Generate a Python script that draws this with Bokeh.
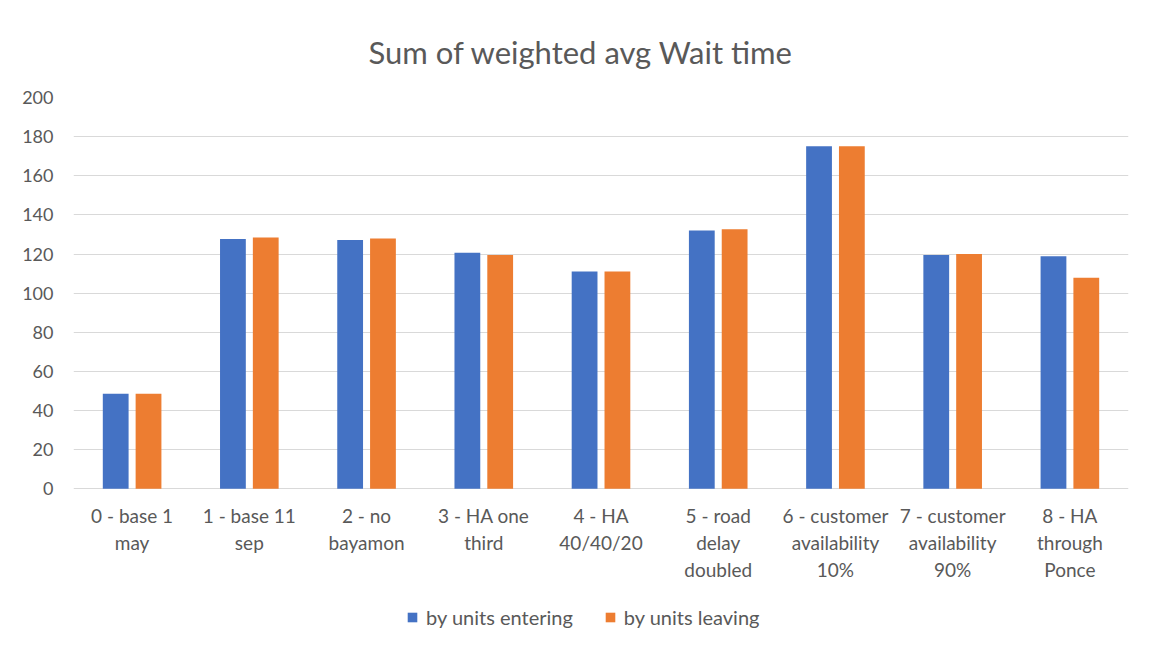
from bokeh.plotting import figure
from bokeh.models import ColumnDataSource, FactorRange, Legend, LegendItem, Range1d, FixedTicker
from bokeh.transform import dodge
from bokeh.core.properties import value
from bokeh.embed import file_html
from bokeh.resources import INLINE

categories = ["0 - base 1\nmay", "1 - base 11\nsep", "2 - no\nbayamon", "3 - HA one\nthird",
              "4 - HA\n40/40/20", "5 - road\ndelay\ndoubled", "6 - customer\navailability\n10%",
              "7 - customer\navailability\n90%", "8 - HA\nthrough\nPonce"]
entering = [48.6, 127.7, 127.2, 120.6, 111.0, 132.0, 175.1, 119.5, 118.8]
leaving = [48.6, 128.4, 127.9, 119.5, 111.0, 132.6, 175.1, 120.0, 107.9]
series_names = ["by units entering", "by units leaving"]
y_ticks = list(range(0, 201, 20))

FONT = "Lato"
TXT = "#595959"
BLUE = "#4472C4"
ORANGE = "#ED7D31"

src = ColumnDataSource(dict(cat=categories, entering=entering, leaving=leaving,
                            base=[0] * len(categories)))

p = figure(x_range=FactorRange(*categories), y_range=Range1d(-75, 200),
           width=1135, height=636, output_backend="svg", toolbar_location=None,
           min_border_left=73, min_border_right=7, min_border_top=97, min_border_bottom=1)

p.title.text = "Sum of weighted avg Wait time"
p.title.align = "left"
p.title.text_font = FONT
p.title.text_font_size = "31px"
p.title.text_font_style = "normal"
p.title.text_color = TXT
p.title.offset = 295
if "standoff" in p.title.properties():
    p.title.standoff = p.title.standoff + 43

r1 = p.vbar(x=dodge("cat", -0.14, range=p.x_range), top="entering", width=0.22, source=src,
            fill_color=BLUE, line_color=None)
r2 = p.vbar(x=dodge("cat", 0.14, range=p.x_range), top="leaving", width=0.22, source=src,
            fill_color=ORANGE, line_color=None)

# category labels under the baseline
p.text(x="cat", y="base", text="cat", source=src, text_align="center", text_baseline="top",
       y_offset=15, text_font=value(FONT), text_font_size="19px", text_color=TXT,
       text_line_height=1.18)

p.xaxis.visible = False
p.xgrid.grid_line_color = None
p.ygrid.grid_line_color = "#d9d9d9"
p.ygrid.grid_line_width = 1
p.ygrid.ticker = FixedTicker(ticks=y_ticks)
p.yaxis.ticker = FixedTicker(ticks=y_ticks)
p.yaxis.axis_line_color = None
p.yaxis.major_tick_line_color = None
p.yaxis.minor_tick_line_color = None
p.yaxis.major_label_text_font = FONT
p.yaxis.major_label_text_font_size = "18px"
p.yaxis.major_label_text_color = TXT
p.yaxis.major_label_standoff = 14

p.outline_line_color = None

legend = Legend(items=[LegendItem(label=series_names[0], renderers=[r1]),
                       LegendItem(label=series_names[1], renderers=[r2])],
                orientation="horizontal", location=(333, 6))
legend.label_text_font = FONT
legend.label_text_font_size = "20px"
legend.label_text_color = TXT
legend.glyph_width = 12
legend.glyph_height = 12
legend.spacing = 31
legend.padding = 4
legend.margin = 0
legend.border_line_color = None
legend.background_fill_alpha = 0
legend.label_standoff = 8
p.add_layout(legend, "center")

open("out.html", "w").write(file_html(p, INLINE))
